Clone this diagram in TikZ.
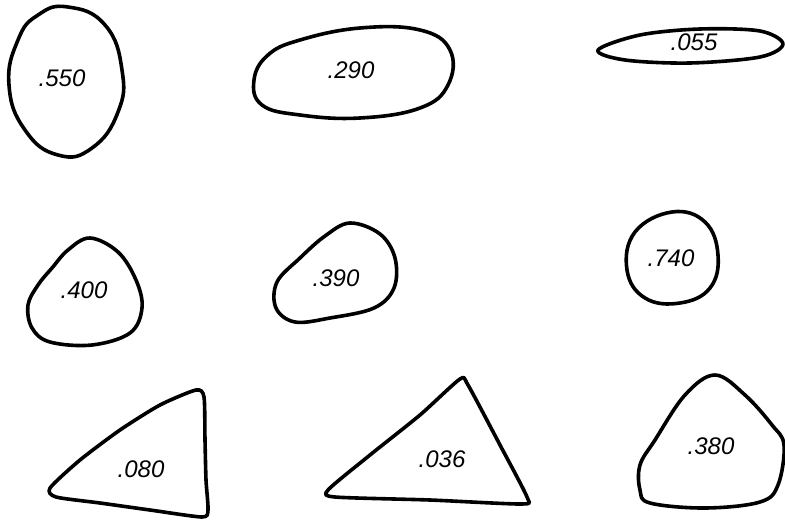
\documentclass[tikz,border=0pt]{standalone}
\usepackage{fontspec}
\setmainfont{Liberation Sans}
\begin{document}
\begin{tikzpicture}[x=1pt,y=-1pt,
  blob/.style={line width=3.6pt, line join=round},
  lbl/.style={font=\fontsize{24}{28}\selectfont\itshape, inner sep=0pt}]
\useasboundingbox (0,0) rectangle (785,527);
% row 1
\draw[blob] plot[smooth cycle, tension=0.8] coordinates {(68,7) (105,25) (122,70) (118,112) (92,148) (58,155) (25,130) (9,85) (18,40) (38,15)};
\node[lbl] (a) at (62,78) {.550};
\draw[blob] plot[smooth cycle, tension=0.7] coordinates {(300,40) (360,28) (420,30) (450,50) (448,85) (420,108) (360,118) (300,115) (262,105) (254,80) (268,55)};
\node[lbl] (b) at (351,70) {.290};
\draw[blob] plot[smooth cycle, tension=0.55] coordinates {(598,50) (640,35) (700,29) (760,31) (783,44) (760,57) (690,63) (625,60)};
\node[lbl] (c) at (694,42) {.055};
% row 2
\draw[blob] plot[smooth cycle, tension=0.6] coordinates {(90,238) (118,252) (136,280) (142,308) (130,333) (92,345) (50,342) (32,328) (28,305) (38,285) (52,268) (68,250)};
\node[lbl] (d) at (84,290) {.400};
\draw[blob] plot[smooth cycle, tension=0.6] coordinates {(350,223) (380,234) (395,258) (394,288) (374,308) (330,318) (295,322) (276,308) (277,282) (300,258) (325,236)};
\node[lbl] (e) at (336,278) {.390};
\draw[blob] plot[smooth cycle, tension=0.7] coordinates {(672,212) (705,222) (718,255) (710,288) (680,303) (645,298) (627,270) (635,232)};
\node[lbl] (f) at (671,258) {.740};
% row 3
\draw[blob] plot[smooth cycle, tension=0.4] coordinates {(196,390) (204,397) (205,440) (206,480) (208,510) (202,517) (150,510) (100,503) (56,497) (50,488) (80,460) (120,430) (160,405)};
\node[lbl] (g) at (141,469) {.080};
\draw[blob] plot[smooth cycle, tension=0.4] coordinates {(460,379) (468,385) (500,445) (527,497) (522,504) (430,500) (335,497) (328,490) (370,455) (420,415)};
\node[lbl] (h) at (442,459) {.036};
\draw[blob] plot[smooth cycle, tension=0.6] coordinates {(715,375) (745,395) (772,425) (784,445) (778,485) (760,502) (705,508) (650,503) (640,490) (640,465) (655,440) (685,395)};
\node[lbl] (i) at (711,446) {.380};
\end{tikzpicture}
\end{document}
